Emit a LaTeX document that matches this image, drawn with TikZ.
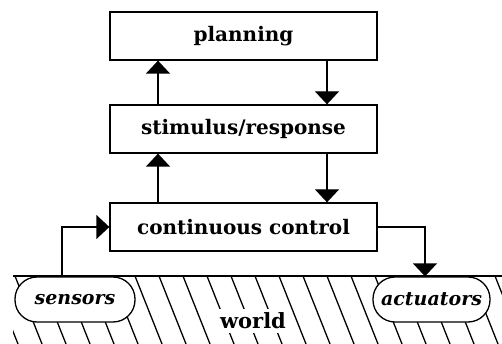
\documentclass[tikz,border=0pt]{standalone}
\usepackage{fontspec}
\setmainfont{DejaVu Serif}
\usetikzlibrary{arrows.meta}

\begin{document}
\begin{tikzpicture} [ x=1pt, y=-1pt, line width=1.3pt,
    layer/.style={draw, fill=white, minimum width=267pt, minimum height=48pt,
        font=\fontsize{20}{22}\selectfont\bfseries},
    device/.style={draw, fill=white, rounded corners=22pt, minimum height=45pt,
        inner sep=2pt, font=\fontsize{19}{21}\selectfont\bfseries\itshape},
    flow/.style={-{Triangle[width=24pt,length=13pt]}},
    ]
    \useasboundingbox (0,0) rectangle (502,344);

    % world hatching
    \begin{scope}
    \clip (13,276) rectangle (502,344);
    \foreach \x in {-9,15,...,500}
        \draw (\x,276) -- ++(27,68);
    \end{scope}
    \draw (13,276) -- (502,276);

    \node[layer] (plan) at (243.5,36) {planning};
    \node[layer] (stim) at (243.5,129) {stimulus/response};
    \node[layer] (cont) at (243.5,227) {continuous control};

    \node[device, minimum width=120pt] (sens) at (75,299.5) {sensors};
    \node[device, minimum width=117pt] (act) at (431.5,299.5) {actuators};
    \node[fill=white, inner sep=4pt, font=\fontsize{21}{23}\selectfont\bfseries]
        (world) at (253,321) {world};

    \draw[flow] ([xshift=-85.5pt]stim.north) -- ([xshift=-85.5pt]plan.south);
    \draw[flow] ([xshift=83.5pt]plan.south) -- ([xshift=83.5pt]stim.north);
    \draw[flow] ([xshift=-85.5pt]cont.north) -- ([xshift=-85.5pt]stim.south);
    \draw[flow] ([xshift=83.5pt]stim.south) -- ([xshift=83.5pt]cont.north);

    \draw[flow] ([xshift=-13pt]sens.north) |- (cont.west);
    \draw[flow] (cont.east) -| ([xshift=-6.5pt]act.north);
\end{tikzpicture}
\end{document}
